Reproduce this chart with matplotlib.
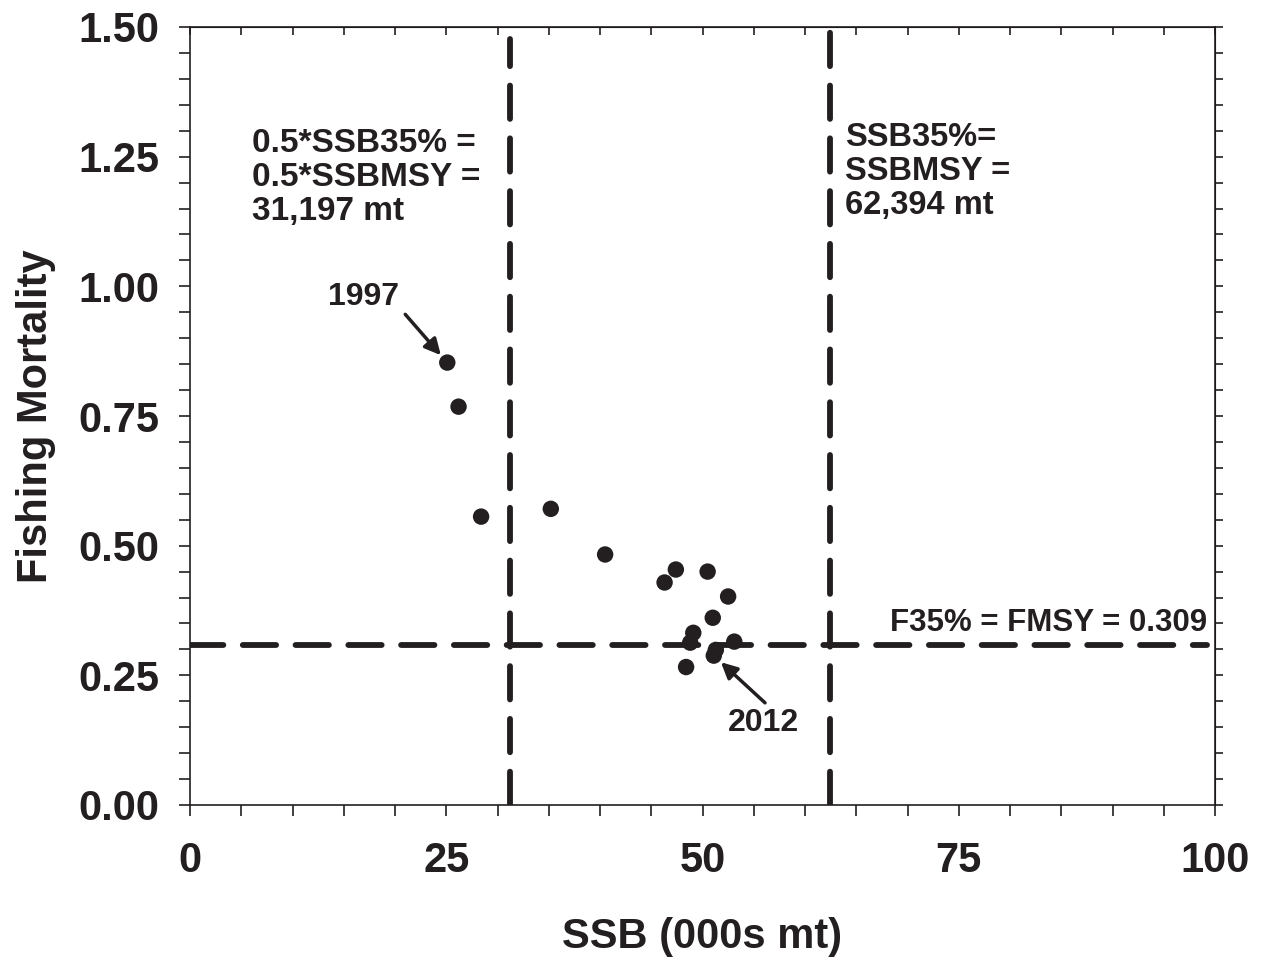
import matplotlib
matplotlib.use("Agg")
import matplotlib.pyplot as plt
from matplotlib.ticker import MultipleLocator

INK = "#231F20"

# SSB (000s mt) and fishing mortality, 1997-2012
ssb = [25.1, 26.2, 28.4, 35.2, 40.5, 46.3, 47.4, 50.5, 52.5, 51.0,
       49.1, 48.8, 53.1, 51.3, 48.4, 51.1]
fmort = [0.853, 0.768, 0.556, 0.571, 0.483, 0.429, 0.454, 0.450, 0.402, 0.361,
         0.332, 0.313, 0.315, 0.299, 0.266, 0.288]
years = list(range(1997, 2013))

ssb_thresh = 31.197
ssb_msy = 62.394
f_msy = 0.309

plt.rcParams["font.family"] = ["Liberation Sans", "DejaVu Sans"]
plt.rcParams["font.weight"] = "bold"
plt.rcParams["lines.scale_dashes"] = False

fig = plt.figure(figsize=(12.67, 9.58), dpi=100, facecolor="white")
ax = fig.add_axes([190 / 1267, 1 - 805 / 958, 1025 / 1267, 778 / 958])

ax.set_xlim(0, 100)
ax.set_ylim(0, 1.5)

dash = dict(color=INK, lw=4.2, linestyle=(0, (24, 14)),
            dash_capstyle="round", zorder=2)
ax.plot([ssb_thresh, ssb_thresh], [0, 1.477], **dash)
ax.plot([ssb_msy, ssb_msy], [0, 1.49], **dash)
ax.plot([0, 99.2], [f_msy, f_msy], **dash)

ax.scatter(ssb, fmort, s=140, color=INK, edgecolors="none", zorder=4)

# first and last years: label text plus an arrow pointing at the dot
labels = {1997: ((13.5, 0.98), (21.0, 0.946)),
          2012: ((52.5, 0.158), (56.1, 0.197))}
for yr, (txt_xy, tail_xy) in labels.items():
    i = years.index(yr)
    ax.text(*txt_xy, str(yr), fontsize=23, fontweight="bold", color=INK,
            ha="left", va="center")
    ax.annotate("", xy=(ssb[i], fmort[i]), xytext=tail_xy,
                arrowprops=dict(arrowstyle="-|>", color=INK, lw=2.5,
                                mutation_scale=24, shrinkA=0, shrinkB=7))

ax.text(6.0, 1.305, "0.5*SSB35% =\n0.5*SSBMSY =\n31,197 mt",
        fontsize=24, fontweight="bold", color=INK, ha="left", va="top",
        linespacing=1.12)
ax.text(63.9, 1.317, "SSB35%=\nSSBMSY =\n62,394 mt",
        fontsize=23.5, fontweight="bold", color=INK, ha="left", va="top",
        linespacing=1.12)
ax.text(99.2, 0.322, "F35% = FMSY = 0.309", fontsize=22.5, fontweight="bold",
        color=INK, ha="right", va="bottom")

ax.xaxis.set_major_locator(MultipleLocator(25))
ax.xaxis.set_minor_locator(MultipleLocator(5))
ax.yaxis.set_major_locator(MultipleLocator(0.25))
ax.yaxis.set_minor_locator(MultipleLocator(0.05))
ax.yaxis.set_major_formatter(plt.FormatStrFormatter("%.2f"))

for s in ax.spines.values():
    s.set_color(INK)
    s.set_linewidth(1.2)

ax.tick_params(which="both", direction="out", color=INK, width=1.2,
               length=8, labelsize=30, labelcolor=INK)
ax.tick_params(axis="x", pad=18)
ax.tick_params(axis="y", pad=14)
for lab in ax.get_xticklabels() + ax.get_yticklabels():
    lab.set_fontweight("bold")

top = ax.secondary_xaxis("top")
top.xaxis.set_major_locator(MultipleLocator(5))
top.tick_params(direction="in", length=6, width=1.2, color=INK,
                labeltop=False)
right = ax.secondary_yaxis("right")
right.yaxis.set_major_locator(MultipleLocator(0.05))
right.tick_params(direction="out", length=6, width=1.2, color=INK,
                  labelright=False)

ax.set_xlabel("SSB (000s mt)", fontsize=30, fontweight="bold", color=INK,
              labelpad=26)
ax.set_ylabel("Fishing Mortality", fontsize=30, fontweight="bold", color=INK,
              labelpad=16)

fig.savefig("out.png", dpi=100, facecolor="white")
